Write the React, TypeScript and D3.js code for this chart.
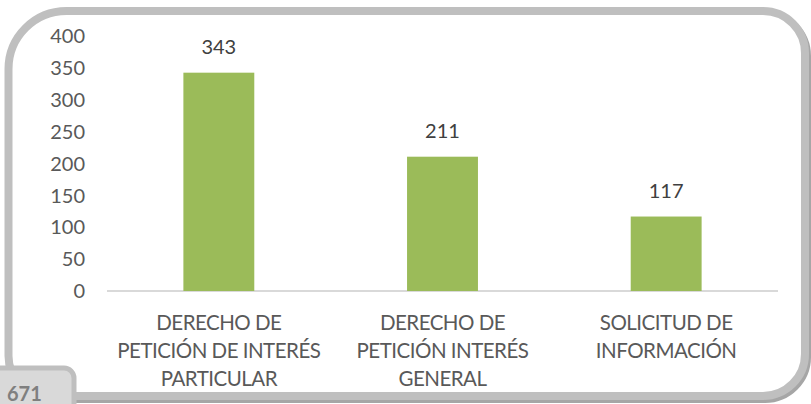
import React from "react";
import * as d3 from "d3";

const categories: string[][] = [
  ["DERECHO DE", "PETICIÓN DE INTERÉS", "PARTICULAR"],
  ["DERECHO DE", "PETICIÓN INTERÉS", "GENERAL"],
  ["SOLICITUD DE", "INFORMACIÓN"],
];
const values: number[] = [343, 211, 117];
const yTicks: number[] = [0, 50, 100, 150, 200, 250, 300, 350, 400];
const totalLabel = "671";

const W = 811;
const H = 404;
const FONT = "Lato, 'Open Sans', sans-serif";

function framePath(l: number, t: number, r: number, b: number, tl: number, tr: number, br: number, bl: number) {
  return `M${l + tl},${t} L${r - tr},${t} A${tr},${tr} 0 0 1 ${r},${t + tr} L${r},${b - br} A${br},${br} 0 0 1 ${r - br},${b} L${l + bl},${b} A${bl},${bl} 0 0 1 ${l},${b - bl} L${l},${t + tl} A${tl},${tl} 0 0 1 ${l + tl},${t} Z`;
}

export default function App() {
  const x = d3
    .scaleBand<number>()
    .domain(values.map((_, i) => i))
    .range([107, 778])
    .paddingInner(0.683)
    .paddingOuter(0.3415);
  const y = d3.scaleLinear().domain([0, 400]).range([291, 36.4]);

  const fp = framePath(8.5, 11, 805, 396, 58, 42, 42, 40);

  return (
    <svg width={W} height={H} style={{ position: "absolute", left: 0, top: 0 }}>
      <rect x={0} y={0} width={W} height={H} fill="#ffffff" />
      {/* frame shadow + frame */}
      <path d={fp} fill="none" stroke="#a6a6a6" strokeWidth={8} transform="translate(2,3)" />
      <path d={fp} fill="#ffffff" stroke="#bfbfbf" strokeWidth={8} />

      {/* y tick labels */}
      {yTicks.map((t) => (
        <text
          key={t}
          x={85}
          y={y(t)}
          dy="0.35em"
          textAnchor="end"
          fontFamily={FONT}
          fontSize={20}
          fill="#595959"
        >
          {t}
        </text>
      ))}

      {/* axis line */}
      <line x1={107} x2={778} y1={y(0)} y2={y(0)} stroke="#d9d9d9" strokeWidth={2} />

      {/* bars */}
      {values.map((v, i) => (
        <rect
          key={i}
          x={x(i)!}
          y={y(v)}
          width={x.bandwidth()}
          height={y(0) - y(v)}
          fill="#9bbb59"
        />
      ))}

      {/* value labels */}
      {values.map((v, i) => (
        <text
          key={i}
          x={x(i)! + x.bandwidth() / 2}
          y={y(v) - 19}
          textAnchor="middle"
          fontFamily={FONT}
          fontSize={20}
          fill="#404040"
        >
          {v}
        </text>
      ))}

      {/* category labels */}
      {categories.map((lines, i) => (
        <text
          key={i}
          x={x(i)! + x.bandwidth() / 2}
          textAnchor="middle"
          fontFamily={FONT}
          fontSize={20.5}
          letterSpacing={-0.5}
          fill="#595959"
        >
          {lines.map((ln, j) => (
            <tspan key={j} x={x(i)! + x.bandwidth() / 2} y={330 + j * 28}>
              {ln}
            </tspan>
          ))}
        </text>
      ))}

      {/* total tab */}
      <path
        d={`M-5,${H + 5} L-5,368 L64,368 A10,10 0 0 1 74,378 L74,${H + 5} Z`}
        fill="#d9d9d9"
        stroke="#bfbfbf"
        strokeWidth={5}
      />
      <text x={7} y={401} fontFamily={FONT} fontSize={20} fontWeight="bold" fill="#7f7f7f">
        {totalLabel}
      </text>
    </svg>
  );
}
